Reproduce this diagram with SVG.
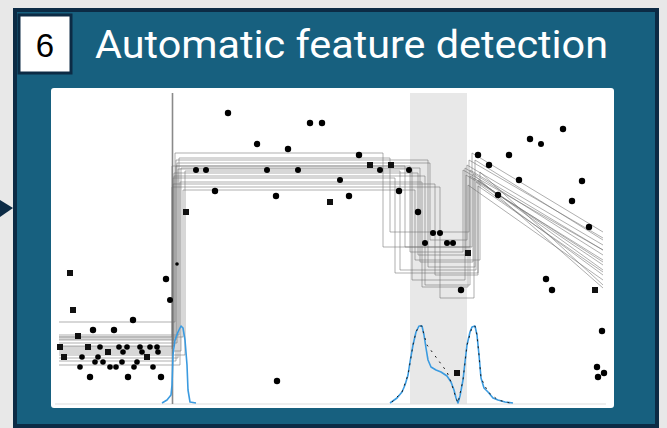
<svg xmlns="http://www.w3.org/2000/svg" width="667" height="428" viewBox="0 0 667 428">
  <style>
    .panel { fill: #17607f; stroke: #0c2b45; stroke-width: 4; }
    .badge { fill: #ffffff; stroke: #0c2b45; stroke-width: 3; }
    .num { font-family: "Liberation Sans", Arial, sans-serif; font-size: 33px; fill: #000000; }
    .title { font-family: Roboto, "Liberation Sans", sans-serif; font-size: 38px; fill: #ffffff; }
    .fit { fill: none; stroke: #6e6e6e; stroke-opacity: 0.55; stroke-width: 1; }
    .dens { fill: none; stroke: #3b9be0; stroke-width: 1.6; stroke-linejoin: round; }
    .dens2 { fill: none; stroke: #1a1a1a; stroke-width: 1; stroke-dasharray: 2 5; }
    .pt circle { fill: #000000; }
    .pt rect { fill: #111111; }
  </style>

  <!-- page background -->
  <rect x="0" y="0" width="667" height="428" fill="#e8e8e8"/>

  <!-- incoming arrow -->
  <g id="arrow-in">
    <polygon points="0,200 13,208 0,217" fill="#0c2b45"/>
  </g>

  <!-- step panel -->
  <g id="panel">
    <rect class="panel" x="15" y="10" width="642" height="416"/>
  </g>

  <g id="badge">
    <rect class="badge" x="19" y="15" width="52" height="58"/>
    <text class="num" x="45" y="57" text-anchor="middle">6</text>
  </g>

  <g id="title">
    <text class="title" x="95" y="58" textLength="513" lengthAdjust="spacingAndGlyphs">Automatic feature detection</text>
  </g>

  <!-- plot -->
  <g id="plot">
    <rect x="51" y="88" width="563" height="320" rx="3" fill="#ffffff"/>
    <!-- highlighted interval -->
    <rect x="410" y="93" width="57" height="311" fill="#e8e8e8"/>
    <!-- baseline -->
    <line x1="55" y1="404" x2="606" y2="404" stroke="#dddddd" stroke-width="1.2"/>
    <!-- detected change point -->
    <line x1="172.5" y1="93" x2="172.5" y2="404" stroke="#8a8a8a" stroke-width="1.6"/>

    <!-- fitted piecewise models -->
    <g id="fits">
      <path class="fit" d="M59,337 H172 V166 H405 V247 H470 V170 L603,250"/>
      <path class="fit" d="M59,346 H174 V173 H418 V255 H466 V175 L603,260"/>
      <path class="fit" d="M59,340 H176 V160 H428 V267 H475 V160 L603,240"/>
      <path class="fit" d="M59,353 H173 V178 H395 V273 H478 V180 L603,270"/>
      <path class="fit" d="M59,358 H178 V169 H412 V280 H465 V168 L603,255"/>
      <path class="fit" d="M59,322 H175 V153 H383 V247 H472 V153 L603,232"/>
      <path class="fit" d="M59,365 H180 V182 H422 V287 H468 V185 L603,280"/>
      <path class="fit" d="M59,349 H172 V187 H440 V298 H474 V178 L603,265"/>
      <path class="fit" d="M59,337 H183 V190 H415 V260 H480 V172 L603,285"/>
      <path class="fit" d="M59,343 H177 V163 H430 V240 H467 V165 L603,245"/>
      <path class="fit" d="M59,355 H185 V171 H400 V270 H476 V182 L603,275"/>
      <path class="fit" d="M59,339 H174 V176 H425 V285 H470 V176 L603,262"/>
      <path class="fit" d="M59,361 H176 V166 H410 V252 H463 V170 L603,250"/>
      <path class="fit" d="M59,347 H173 V184 H435 V275 H478 V186 L603,272"/>
      <path class="fit" d="M59,335 H179 V158 H390 V232 H469 V160 L603,238"/>
      <path class="fit" d="M59,351 H181 V168 H420 V262 H473 V174 L603,288"/>
    </g>

    <!-- density traces -->
    <g id="density">
      <path class="dens" d="M162,403 L167,400 L171,395 L172,385 L173,355 L175,340 L178,332 L181,326 L183,328 L185,340 L187,365 L188,390 L190,402 L196,403"/>
      <path class="dens" d="M390,403 L397,398 L402,392 L405,385 L408,375 L410,362 L413,345 L416,332 L419,326 L422,326 L424,335 L426,348 L428,360 L431,367 L436,370 L441,372 L447,376 L451,382 L454,390 L456,398 L458,403 L460,396 L463,380 L465,362 L467,345 L470,332 L472,327 L475,326 L477,335 L479,355 L481,378 L484,388 L488,392 L493,398 L498,400 L505,402 L513,403"/>
      <path class="dens2" d="M392,402 L402,392 L408,375 L413,345 L416,332 L419,326 L422,326 L424,335 L427,345 L447,372 L451,382 L456,398 L458,403 L463,380 L467,345 L472,327 L475,326 L477,335 L479,355 L481,378 L488,392 L498,400 L510,403"/>
    </g>

    <!-- observations -->
    <g id="points" class="pt">
      <circle cx="228" cy="113" r="3.2"/>
      <circle cx="310" cy="123" r="3.2"/>
      <circle cx="322" cy="123" r="3.2"/>
      <circle cx="257" cy="144" r="3.2"/>
      <circle cx="288" cy="149" r="3.2"/>
      <circle cx="359" cy="155" r="3.2"/>
      <circle cx="196" cy="170" r="3"/>
      <circle cx="206" cy="170" r="3"/>
      <circle cx="267" cy="170" r="3"/>
      <circle cx="298" cy="170" r="3"/>
      <circle cx="380" cy="170" r="3"/>
      <circle cx="409" cy="170" r="3"/>
      <circle cx="340" cy="180" r="3"/>
      <circle cx="215" cy="191" r="3.2"/>
      <circle cx="276" cy="196" r="3.2"/>
      <circle cx="349" cy="196" r="3.2"/>
      <circle cx="399" cy="191" r="3.2"/>
      <circle cx="418" cy="212" r="3.2"/>
      <circle cx="425" cy="243" r="3"/>
      <circle cx="433" cy="233" r="3"/>
      <circle cx="440" cy="233" r="3"/>
      <circle cx="447" cy="243" r="3"/>
      <circle cx="453" cy="243" r="3"/>
      <circle cx="461" cy="290" r="3.2"/>
      <circle cx="563" cy="129" r="3.2"/>
      <circle cx="530" cy="139" r="3.2"/>
      <circle cx="541" cy="144" r="3"/>
      <circle cx="478" cy="155" r="3.2"/>
      <circle cx="509" cy="155" r="3.2"/>
      <circle cx="489" cy="165" r="3.2"/>
      <circle cx="519" cy="180" r="3.2"/>
      <circle cx="582" cy="181" r="3.2"/>
      <circle cx="498" cy="195" r="3.2"/>
      <circle cx="572" cy="201" r="3.2"/>
      <circle cx="589" cy="227" r="3.2"/>
      <circle cx="546" cy="279" r="3.2"/>
      <circle cx="552" cy="290" r="3.2"/>
      <circle cx="602" cy="331" r="3.2"/>
      <circle cx="597" cy="367" r="3.2"/>
      <circle cx="604" cy="373" r="3.2"/>
      <circle cx="598" cy="377" r="3.2"/>
      <circle cx="277" cy="381" r="3.2"/>
      <circle cx="166" cy="279" r="3.2"/>
      <circle cx="170" cy="300" r="3"/>
      <circle cx="177" cy="264" r="1.8"/>
      <circle cx="133" cy="320" r="3.2"/>
      <circle cx="93" cy="330" r="3.2"/>
      <circle cx="114" cy="330" r="3.2"/>
      <circle cx="100" cy="347" r="2.8"/>
      <circle cx="119" cy="347" r="2.8"/>
      <circle cx="127" cy="347" r="2.8"/>
      <circle cx="140" cy="347" r="2.8"/>
      <circle cx="150" cy="347" r="2.8"/>
      <circle cx="157" cy="347" r="2.8"/>
      <circle cx="123" cy="352" r="2.8"/>
      <circle cx="142" cy="352" r="2.8"/>
      <circle cx="158" cy="352" r="2.8"/>
      <circle cx="82" cy="357" r="2.8"/>
      <circle cx="98" cy="357" r="2.8"/>
      <circle cx="95" cy="362" r="2.8"/>
      <circle cx="103" cy="362" r="2.8"/>
      <circle cx="122" cy="362" r="2.8"/>
      <circle cx="137" cy="362" r="2.8"/>
      <circle cx="80" cy="367" r="2.8"/>
      <circle cx="110" cy="367" r="2.8"/>
      <circle cx="116" cy="367" r="2.8"/>
      <circle cx="134" cy="367" r="2.8"/>
      <circle cx="153" cy="367" r="2.8"/>
      <circle cx="90" cy="377" r="3.2"/>
      <circle cx="128" cy="377" r="3.2"/>
      <circle cx="161" cy="377" r="3.2"/>
      <rect x="67" y="270" width="6" height="6"/>
      <rect x="70" y="307" width="6" height="6"/>
      <rect x="75" y="333" width="6" height="6"/>
      <rect x="183" y="209" width="6" height="6"/>
      <rect x="327" y="199" width="6" height="6"/>
      <rect x="367" y="162" width="6" height="6"/>
      <rect x="388" y="162" width="6" height="6"/>
      <rect x="465" y="250" width="6" height="6"/>
      <rect x="454" y="370" width="6" height="6"/>
      <rect x="592" y="287" width="6" height="6"/>
      <rect x="57" y="344" width="6" height="6"/>
      <rect x="85" y="344" width="6" height="6"/>
      <rect x="105" y="349" width="6" height="6"/>
      <rect x="61" y="354" width="6" height="6"/>
      <rect x="144" y="354" width="6" height="6"/>
    </g>
  </g>
</svg>
